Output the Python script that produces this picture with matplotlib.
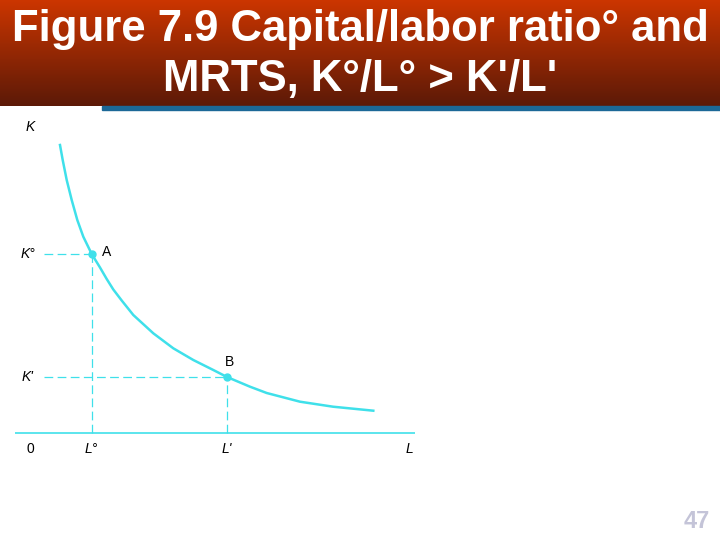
import numpy as np
import matplotlib
matplotlib.use("Agg")
import matplotlib.pyplot as plt
from matplotlib.patches import Rectangle

# isoquant (L, K)
curve_L = [4.5, 4.77, 5.17, 5.67, 6.23, 6.83, 7.67, 8.5, 9.17, 9.83, 10.67, 11.83, 13.83,
           15.83, 17.83, 19.83, 21.2, 23.5, 25.17, 28.5, 31.8, 35.83]
curve_K = [28.8, 27.3, 25.3, 23.3, 21.3, 19.63, 17.9, 16.55, 15.4, 14.35, 13.25, 11.8, 9.97,
           8.47, 7.3, 6.3, 5.6, 4.63, 4.0, 3.13, 2.63, 2.23]

point_names = ["A", "B"]
point_L = [7.67, 21.2]
point_K = [17.9, 5.6]
k_labels = ["K°", "K'"]
l_labels = ["L°", "L'"]

title_lines = ["Figure 7.9 Capital/labor ratio° and", "MRTS, K°/L° > K'/L'"]
page = "47"

cyan = "#3fe0ea"

fig = plt.figure(figsize=(7.2, 5.4), dpi=100)
fig.patch.set_facecolor("white")

# header band with gradient
hdr = fig.add_axes([0, 1 - 106 / 540, 1, 106 / 540])
grad = np.linspace(0, 1, 256)[:, None, None]
top = np.array([0.80, 0.21, 0.0])
bot = np.array([0.36, 0.10, 0.03])
rgb = top * (1 - grad) + bot * grad
hdr.imshow(rgb, aspect="auto", extent=[0, 1, 0, 1])
hdr.set_xlim(0, 1)
hdr.set_ylim(0, 1)
hdr.axis("off")
for line, yc in zip(title_lines, [30, 79]):
    fig.text(0.5, 1 - yc / 540, line, ha="center", va="center", color="white",
             fontsize=31.5, fontweight="bold", family="Liberation Sans")
fig.patches.append(Rectangle((102 / 720, 1 - 110 / 540), 618 / 720, 4 / 540,
                             transform=fig.transFigure, color="#1b6897"))

# chart axes
ax = fig.add_axes([15 / 720, 77 / 540, 400 / 720, 350 / 540])
ax.set_xlim(0, 40)
ax.set_ylim(-3, 32)
ax.axis("off")

ax.plot([0, 40], [0, 0], color=cyan, lw=1.2)
ax.plot(curve_L, curve_K, color=cyan, lw=1.8, solid_joinstyle="round")

for name, x, y, kl, ll in zip(point_names, point_L, point_K, k_labels, l_labels):
    ax.plot([2.9, x], [y, y], color=cyan, lw=0.9, dashes=(7, 3.5))
    ax.plot([x, x], [0, y], color=cyan, lw=0.9, dashes=(7, 3.5))
    ax.plot(x, y, "o", color=cyan, ms=5)
    ax.text(1.3, y, kl, ha="center", va="center", fontsize=10, style="italic",
            family="Liberation Sans")
    ax.text(x, -1.6, ll, ha="center", va="center", fontsize=10, style="italic",
            family="Liberation Sans")

ax.text(point_L[0] + 1.0, point_K[0] + 0.2, point_names[0], ha="left", va="center",
        fontsize=10, family="Liberation Sans")
ax.text(point_L[1] + 0.2, point_K[1] + 1.5, point_names[1], ha="center", va="center",
        fontsize=10, family="Liberation Sans")

ax.text(1.5, 30.6, "K", ha="center", va="center", fontsize=10, style="italic",
        family="Liberation Sans")
ax.text(1.5, -1.6, "0", ha="center", va="center", fontsize=10, family="Liberation Sans")
ax.text(39.4, -1.6, "L", ha="center", va="center", fontsize=10, style="italic",
        family="Liberation Sans")

fig.text(697 / 720, 1 - 521 / 540, page, ha="center", va="center", fontsize=17,
         fontweight="bold", color="#c4c4d8", family="Liberation Sans")

fig.savefig("out.png", dpi=100)
